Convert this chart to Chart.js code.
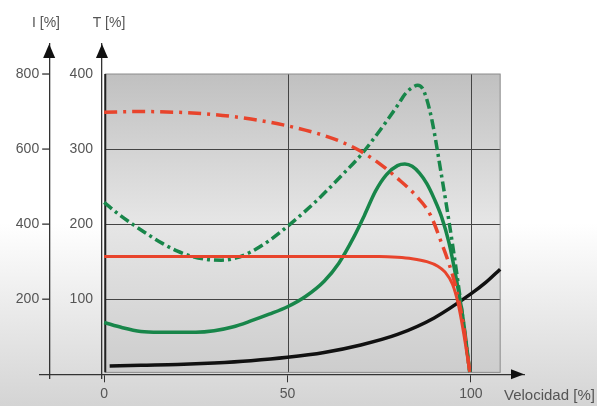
<!DOCTYPE html>
<html>
<head>
<meta charset="utf-8">
<script src="https://cdn.jsdelivr.net/npm/chart.js@4.4.0/dist/chart.umd.min.js"></script>
<style>
  html, body { margin: 0; padding: 0; background: #fff; }
  canvas { display: block; }
</style>
</head>
<body>
<canvas id="myChart" width="597" height="406"></canvas>
<script>
// velocidad [%] / valores
const speedTicks = [0, 50, 100]
const torqueTicks = [100, 200, 300, 400]
const currentTicks = [200, 400, 600, 800]

// corriente arranque directo (I [%])
const currentDOL_x = [0, 10, 20, 30, 40, 50, 60, 65, 70, 75, 80, 85, 89, 92, 94, 96, 98, 99.7]
const currentDOL_y = [698, 700, 698, 692, 680, 662, 636, 618, 594, 562, 522, 476, 424, 350, 296, 228, 130, 6]

// corriente con limitacion (I [%])
const currentSoft_x = [0, 40, 75, 80, 84, 88, 91, 93, 95, 96.5, 98, 99.7]
const currentSoft_y = [314, 314, 314, 312, 308, 300, 288, 272, 240, 190, 112, 6]

// par arranque directo (T [%])
const torqueDOL_x = [0, 4, 8, 12, 16, 20, 24, 28, 32, 36, 40, 45, 50, 55, 60, 65, 70, 74, 77, 80, 82, 84, 85.5, 86.8, 88, 89.5, 92, 94, 96, 98, 99.7]
const torqueDOL_y = [229, 213, 199, 186, 174, 164, 157, 153, 152, 155, 163, 178, 197, 218, 241, 266, 292, 317, 337, 358, 373, 382, 385, 381, 366, 336, 265, 205, 140, 68, 3]

// par con arrancador suave (T [%])
const torqueSoft_x = [0, 5, 10, 15, 25, 30, 35, 40, 45, 50, 55, 60, 64, 68, 71, 74, 77, 80, 82, 84, 86, 88, 90, 92, 94, 96, 98, 99.7]
const torqueSoft_y = [69, 62, 57, 56, 56, 58, 63, 71, 80, 90, 104, 124, 148, 182, 212, 244, 266, 278, 280, 277, 268, 254, 234, 210, 176, 128, 70, 3]

// par resistente de la carga (T [%])
const loadTorque_x = [1.5, 10, 20, 30, 40, 50, 60, 70, 80, 90, 100, 104, 108]
const loadTorque_y = [11, 12, 13, 15, 18, 22.5, 29, 39, 53, 75, 107, 122, 140]

function toPoints(xs, ys) {
    return xs.map((x, i) => ({ x: x, y: ys[i] }))
}

const axisColor = '#333'
const textColor = '#555'
const fontFamily = '"Liberation Sans", Arial, sans-serif'

// fondo, zona gris, cuadricula interior, flechas y rotulos
const plotBox = {
    id: 'plotBox',
    beforeDraw(chart) {
        const { ctx, scales: { x, y } } = chart
        ctx.save()
        const bg = ctx.createLinearGradient(0, 0, 0, chart.height)
        bg.addColorStop(0, '#ffffff')
        bg.addColorStop(0.55, '#ffffff')
        bg.addColorStop(1, '#d4d4d4')
        ctx.fillStyle = bg
        ctx.fillRect(0, 0, chart.width, chart.height)

        const l = x.getPixelForValue(0.3), r = x.getPixelForValue(108)
        const t = y.getPixelForValue(400), b = y.getPixelForValue(2.5)
        const g = ctx.createLinearGradient(0, t, 0, b)
        g.addColorStop(0, '#c0c0c0')
        g.addColorStop(0.5, '#e6e6e6')
        g.addColorStop(1, '#cdcdcd')
        ctx.fillStyle = g
        ctx.fillRect(l, t, r - l, b - t)

        ctx.strokeStyle = '#444'
        ctx.lineWidth = 1
        ctx.beginPath()
        ;[50, 100].forEach(v => {
            const px = Math.round(x.getPixelForValue(v)) + 0.5
            ctx.moveTo(px, t); ctx.lineTo(px, b)
        })
        ;[100, 200, 300].forEach(v => {
            const py = Math.round(y.getPixelForValue(v)) + 0.5
            ctx.moveTo(l, py); ctx.lineTo(r, py)
        })
        ctx.stroke()

        ctx.strokeStyle = '#8a8a8a'
        ctx.strokeRect(l, t, r - l, b - t)
        ctx.strokeStyle = '#222'
        ctx.lineWidth = 2
        ctx.beginPath()
        ctx.moveTo(l, t); ctx.lineTo(l, b)
        ctx.stroke()
        ctx.restore()
    },
    afterDraw(chart) {
        const { ctx, scales: { x, y, yI } } = chart
        ctx.save()
        ctx.fillStyle = '#111'
        // flechas
        const y0 = y.getPixelForValue(0)
        const xEnd = x.getPixelForValue(x.max)
        ctx.beginPath()
        ctx.moveTo(xEnd, y0); ctx.lineTo(xEnd - 13, y0 - 5); ctx.lineTo(xEnd - 13, y0 + 5)
        ctx.fill()
        ;[-15, -0.6].forEach(v => {
            const px = x.getPixelForValue(v)
            const top = y.getPixelForValue(y.max)
            ctx.beginPath()
            ctx.moveTo(px, top); ctx.lineTo(px - 6, top + 14); ctx.lineTo(px + 6, top + 14)
            ctx.fill()
        })

        // etiquetas de los ejes verticales
        ctx.fillStyle = textColor
        ctx.font = '14px ' + fontFamily
        ctx.textAlign = 'right'
        ctx.textBaseline = 'middle'
        const tAxis = x.getPixelForValue(-0.6)
        y.ticks.forEach(tk => {
            ctx.fillText(String(tk.value), tAxis - 9, y.getPixelForValue(tk.value))
        })
        const iAxis = x.getPixelForValue(-15)
        ctx.strokeStyle = axisColor
        ctx.lineWidth = 1.3
        yI.ticks.forEach(tk => {
            const py = yI.getPixelForValue(tk.value)
            ctx.beginPath()
            ctx.moveTo(iAxis - 7, py); ctx.lineTo(iAxis, py)
            ctx.stroke()
            ctx.fillText(String(tk.value), iAxis - 10, py)
        })

        // titulos
        ctx.textAlign = 'center'
        ctx.textBaseline = 'alphabetic'
        ctx.fillText('I [%]', 46, 27)
        ctx.fillText('T [%]', 109, 27)
        ctx.textAlign = 'left'
        ctx.font = '15px ' + fontFamily
        ctx.fillText('Velocidad [%]', 504, 400)
        ctx.restore()
    }
}

const ctx = document.getElementById('myChart')
const chart = new Chart(ctx, {
    type: 'line',
    data: {
        datasets: [
            {
                data: toPoints(currentDOL_x, currentDOL_y),
                yAxisID: 'yI',
                borderColor: '#e8442c',
                borderWidth: 3.5,
                borderDash: [13, 6, 3, 6],
            },
            {
                data: toPoints(currentSoft_x, currentSoft_y),
                yAxisID: 'yI',
                borderColor: '#e8442c',
                borderWidth: 3,
            },
            {
                data: toPoints(torqueDOL_x, torqueDOL_y),
                yAxisID: 'y',
                borderColor: '#18864a',
                borderWidth: 3.5,
                borderDash: [10, 4, 3, 4],
            },
            {
                data: toPoints(torqueSoft_x, torqueSoft_y),
                yAxisID: 'y',
                borderColor: '#18864a',
                borderWidth: 3.5,
            },
            {
                data: toPoints(loadTorque_x, loadTorque_y),
                yAxisID: 'y',
                borderColor: '#111',
                borderWidth: 3.5,
            },
        ]
    },
    options: {
        responsive: false,
        animation: false,
        events: [],
        layout: { padding: { left: 40, right: 73, top: 44, bottom: 28 } },
        elements: {
            point: { radius: 0 },
            line: { cubicInterpolationMode: 'monotone', borderCapStyle: 'butt', fill: false }
        },
        plugins: { legend: { display: false }, tooltip: { enabled: false } },
        scales: {
            x: {
                type: 'linear',
                min: -17.5,
                max: 114.5,
                position: { y: 0 },
                afterBuildTicks: s => { s.ticks = speedTicks.map(v => ({ value: v })) },
                grid: { display: true, drawOnChartArea: false, drawTicks: true, tickLength: 7, color: axisColor },
                border: { display: true, color: axisColor, width: 1.3 },
                ticks: { color: textColor, padding: 4, maxRotation: 0, font: { size: 14, family: fontFamily } }
            },
            y: {
                type: 'linear',
                min: -5,
                max: 440,
                position: { x: -0.6 },
                afterBuildTicks: s => { s.ticks = torqueTicks.map(v => ({ value: v })) },
                grid: { display: false },
                border: { display: true, color: axisColor, width: 1.3 },
                ticks: { display: false }
            },
            yI: {
                type: 'linear',
                min: -10,
                max: 880,
                position: { x: -15 },
                afterBuildTicks: s => { s.ticks = currentTicks.map(v => ({ value: v })) },
                grid: { display: false },
                border: { display: true, color: axisColor, width: 1.3 },
                ticks: { display: false }
            }
        }
    },
    plugins: [plotBox]
});
</script>
</body>
</html>
